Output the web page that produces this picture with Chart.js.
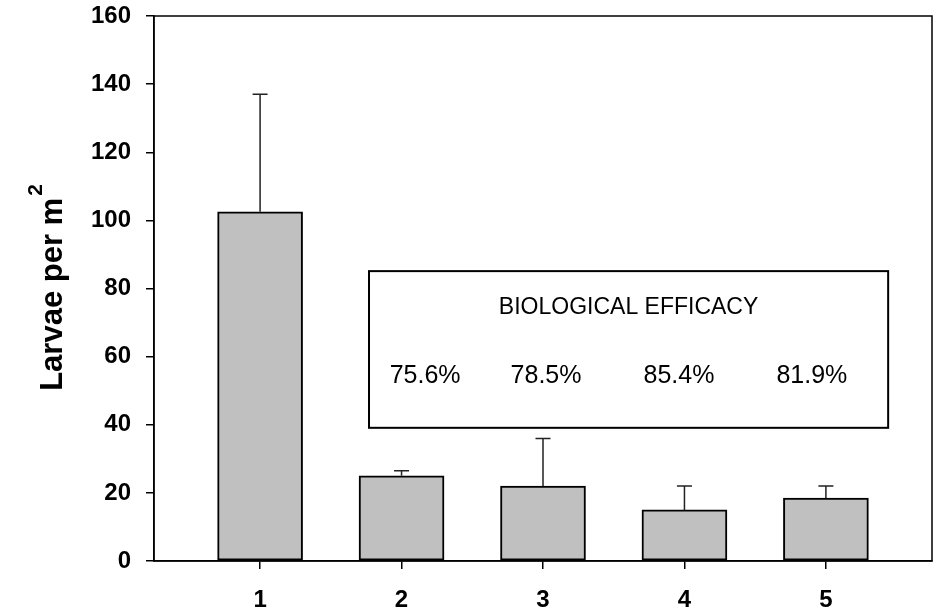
<!DOCTYPE html>
<html>
<head>
<meta charset="utf-8">
<script src="https://cdn.jsdelivr.net/npm/chart.js@4.4.0/dist/chart.umd.min.js"></script>
<style>
  html, body { margin: 0; padding: 0; background: #fff; }
  #wrap { width: 939px; height: 610px; }
</style>
</head>
<body>
<div id="wrap"><canvas id="larvaeChart" width="939" height="610"></canvas></div>
<script>
// treatments 1..5
const treatments = [1, 2, 3, 4, 5];
const larvae = [102.5, 25, 22, 15, 18.5];
const errUp = [34.5, 1.5, 14, 7, 3.5];
const yTicks = [0, 20, 40, 60, 80, 100, 120, 140, 160];
const yTitle = 'Larvae per m';
const yTitleSup = '2';
const efficacyTitle = 'BIOLOGICAL EFFICACY';
const efficacy = ['75.6%', '78.5%', '85.4%', '81.9%'];

// error bars (upper only)
const errorBars = {
    id: 'errorBars',
    afterDatasetsDraw(chart) {
        const ctx = chart.ctx;
        const xs = chart.scales.x, ys = chart.scales.y;
        ctx.save();
        ctx.strokeStyle = '#222';
        ctx.lineWidth = 1.5;
        treatments.forEach(function (t, i) {
            const x = xs.getPixelForValue(t);
            const y0 = ys.getPixelForValue(larvae[i]);
            const y1 = ys.getPixelForValue(larvae[i] + errUp[i]);
            ctx.beginPath();
            ctx.moveTo(x, y0);
            ctx.lineTo(x, y1);
            ctx.moveTo(x - 7.5, y1);
            ctx.lineTo(x + 7.5, y1);
            ctx.stroke();
        });
        ctx.restore();
    }
};

// frame round plot, efficacy box, y title with superscript
const frameAndBox = {
    id: 'frameAndBox',
    afterDraw(chart) {
        const ctx = chart.ctx;
        const a = chart.chartArea;
        const xs = chart.scales.x, ys = chart.scales.y;
        ctx.save();
        ctx.strokeStyle = '#000';
        ctx.lineWidth = 1.5;
        ctx.strokeRect(a.left, a.top, a.right - a.left, a.bottom - a.top);

        const bl = xs.getPixelForValue(1.77), br = xs.getPixelForValue(5.44);
        const bt = ys.getPixelForValue(85.1), bb = ys.getPixelForValue(39.1);
        ctx.fillStyle = '#fff';
        ctx.fillRect(bl, bt, br - bl, bb - bt);
        ctx.lineWidth = 2;
        ctx.strokeRect(bl, bt, br - bl, bb - bt);

        ctx.fillStyle = '#000';
        ctx.textAlign = 'center';
        ctx.textBaseline = 'middle';
        ctx.font = '23px "Liberation Sans", Arial, sans-serif';
        ctx.fillText(efficacyTitle, (bl + br) / 2, bt + 37);
        ctx.font = '25px "Liberation Sans", Arial, sans-serif';
        const w = br - bl;
        const fr = [0.108, 0.341, 0.597, 0.853];
        efficacy.forEach(function (s, i) {
            ctx.fillText(s, bl + w * fr[i], bt + 105);
        });

        // y axis title
        const cy = (a.top + a.bottom) / 2;
        ctx.translate(62, cy);
        ctx.rotate(-Math.PI / 2);
        ctx.textBaseline = 'alphabetic';
        ctx.textAlign = 'left';
        ctx.font = 'bold 31px "Liberation Sans", Arial, sans-serif';
        const w1 = ctx.measureText(yTitle).width;
        ctx.font = 'bold 21px "Liberation Sans", Arial, sans-serif';
        const w2 = ctx.measureText(yTitleSup).width;
        const x0 = -(w1 + w2) / 2;
        ctx.font = 'bold 31px "Liberation Sans", Arial, sans-serif';
        ctx.fillText(yTitle, x0, 0);
        ctx.font = 'bold 21px "Liberation Sans", Arial, sans-serif';
        ctx.fillText(yTitleSup, x0 + w1 + 2, -20);
        ctx.restore();
    }
};

const ctx = document.getElementById('larvaeChart').getContext('2d');
const chart = new Chart(ctx, {
    type: 'bar',
    data: {
        datasets: [{
            data: treatments.map(function (t, i) { return { x: t, y: larvae[i] }; }),
            backgroundColor: '#c0c0c0',
            borderColor: '#000',
            borderWidth: 2,
            borderSkipped: false,
            barThickness: 85
        }]
    },
    plugins: [errorBars, frameAndBox],
    options: {
        responsive: false,
        animation: false,
        events: [],
        layout: { padding: { top: 16, right: 7, left: 0, bottom: 0 } },
        plugins: {
            legend: { display: false },
            tooltip: { enabled: false }
        },
        scales: {
            x: {
                type: 'linear',
                min: 0.25,
                max: 5.75,
                offset: false,
                afterBuildTicks: function (scale) {
                    scale.ticks = treatments.map(function (t) { return { value: t }; });
                },
                afterFit: function (scale) {
                    scale.height = 49;
                    scale.paddingLeft = 0;
                    scale.paddingRight = 0;
                },
                grid: { offset: false, drawOnChartArea: false, drawTicks: true, tickLength: 8, color: '#000', lineWidth: 1.5 },
                border: { display: true, color: '#000', width: 1.5 },
                ticks: {
                    color: '#000',
                    padding: 17,
                    maxRotation: 0,
                    font: { family: '"Liberation Sans", Arial, sans-serif', size: 24, weight: 'bold' }
                }
            },
            y: {
                min: 0,
                max: 160,
                afterBuildTicks: function (scale) {
                    scale.ticks = yTicks.map(function (v) { return { value: v }; });
                },
                afterFit: function (scale) {
                    scale.width = 154;
                    scale.paddingTop = 0;
                    scale.paddingBottom = 0;
                },
                grid: { drawOnChartArea: false, drawTicks: true, tickLength: 8, color: '#000', lineWidth: 1.5 },
                border: { display: true, color: '#000', width: 1.5 },
                ticks: {
                    color: '#000',
                    padding: 15,
                    font: { family: '"Liberation Sans", Arial, sans-serif', size: 24, weight: 'bold' }
                }
            }
        }
    }
});
</script>
</body>
</html>
